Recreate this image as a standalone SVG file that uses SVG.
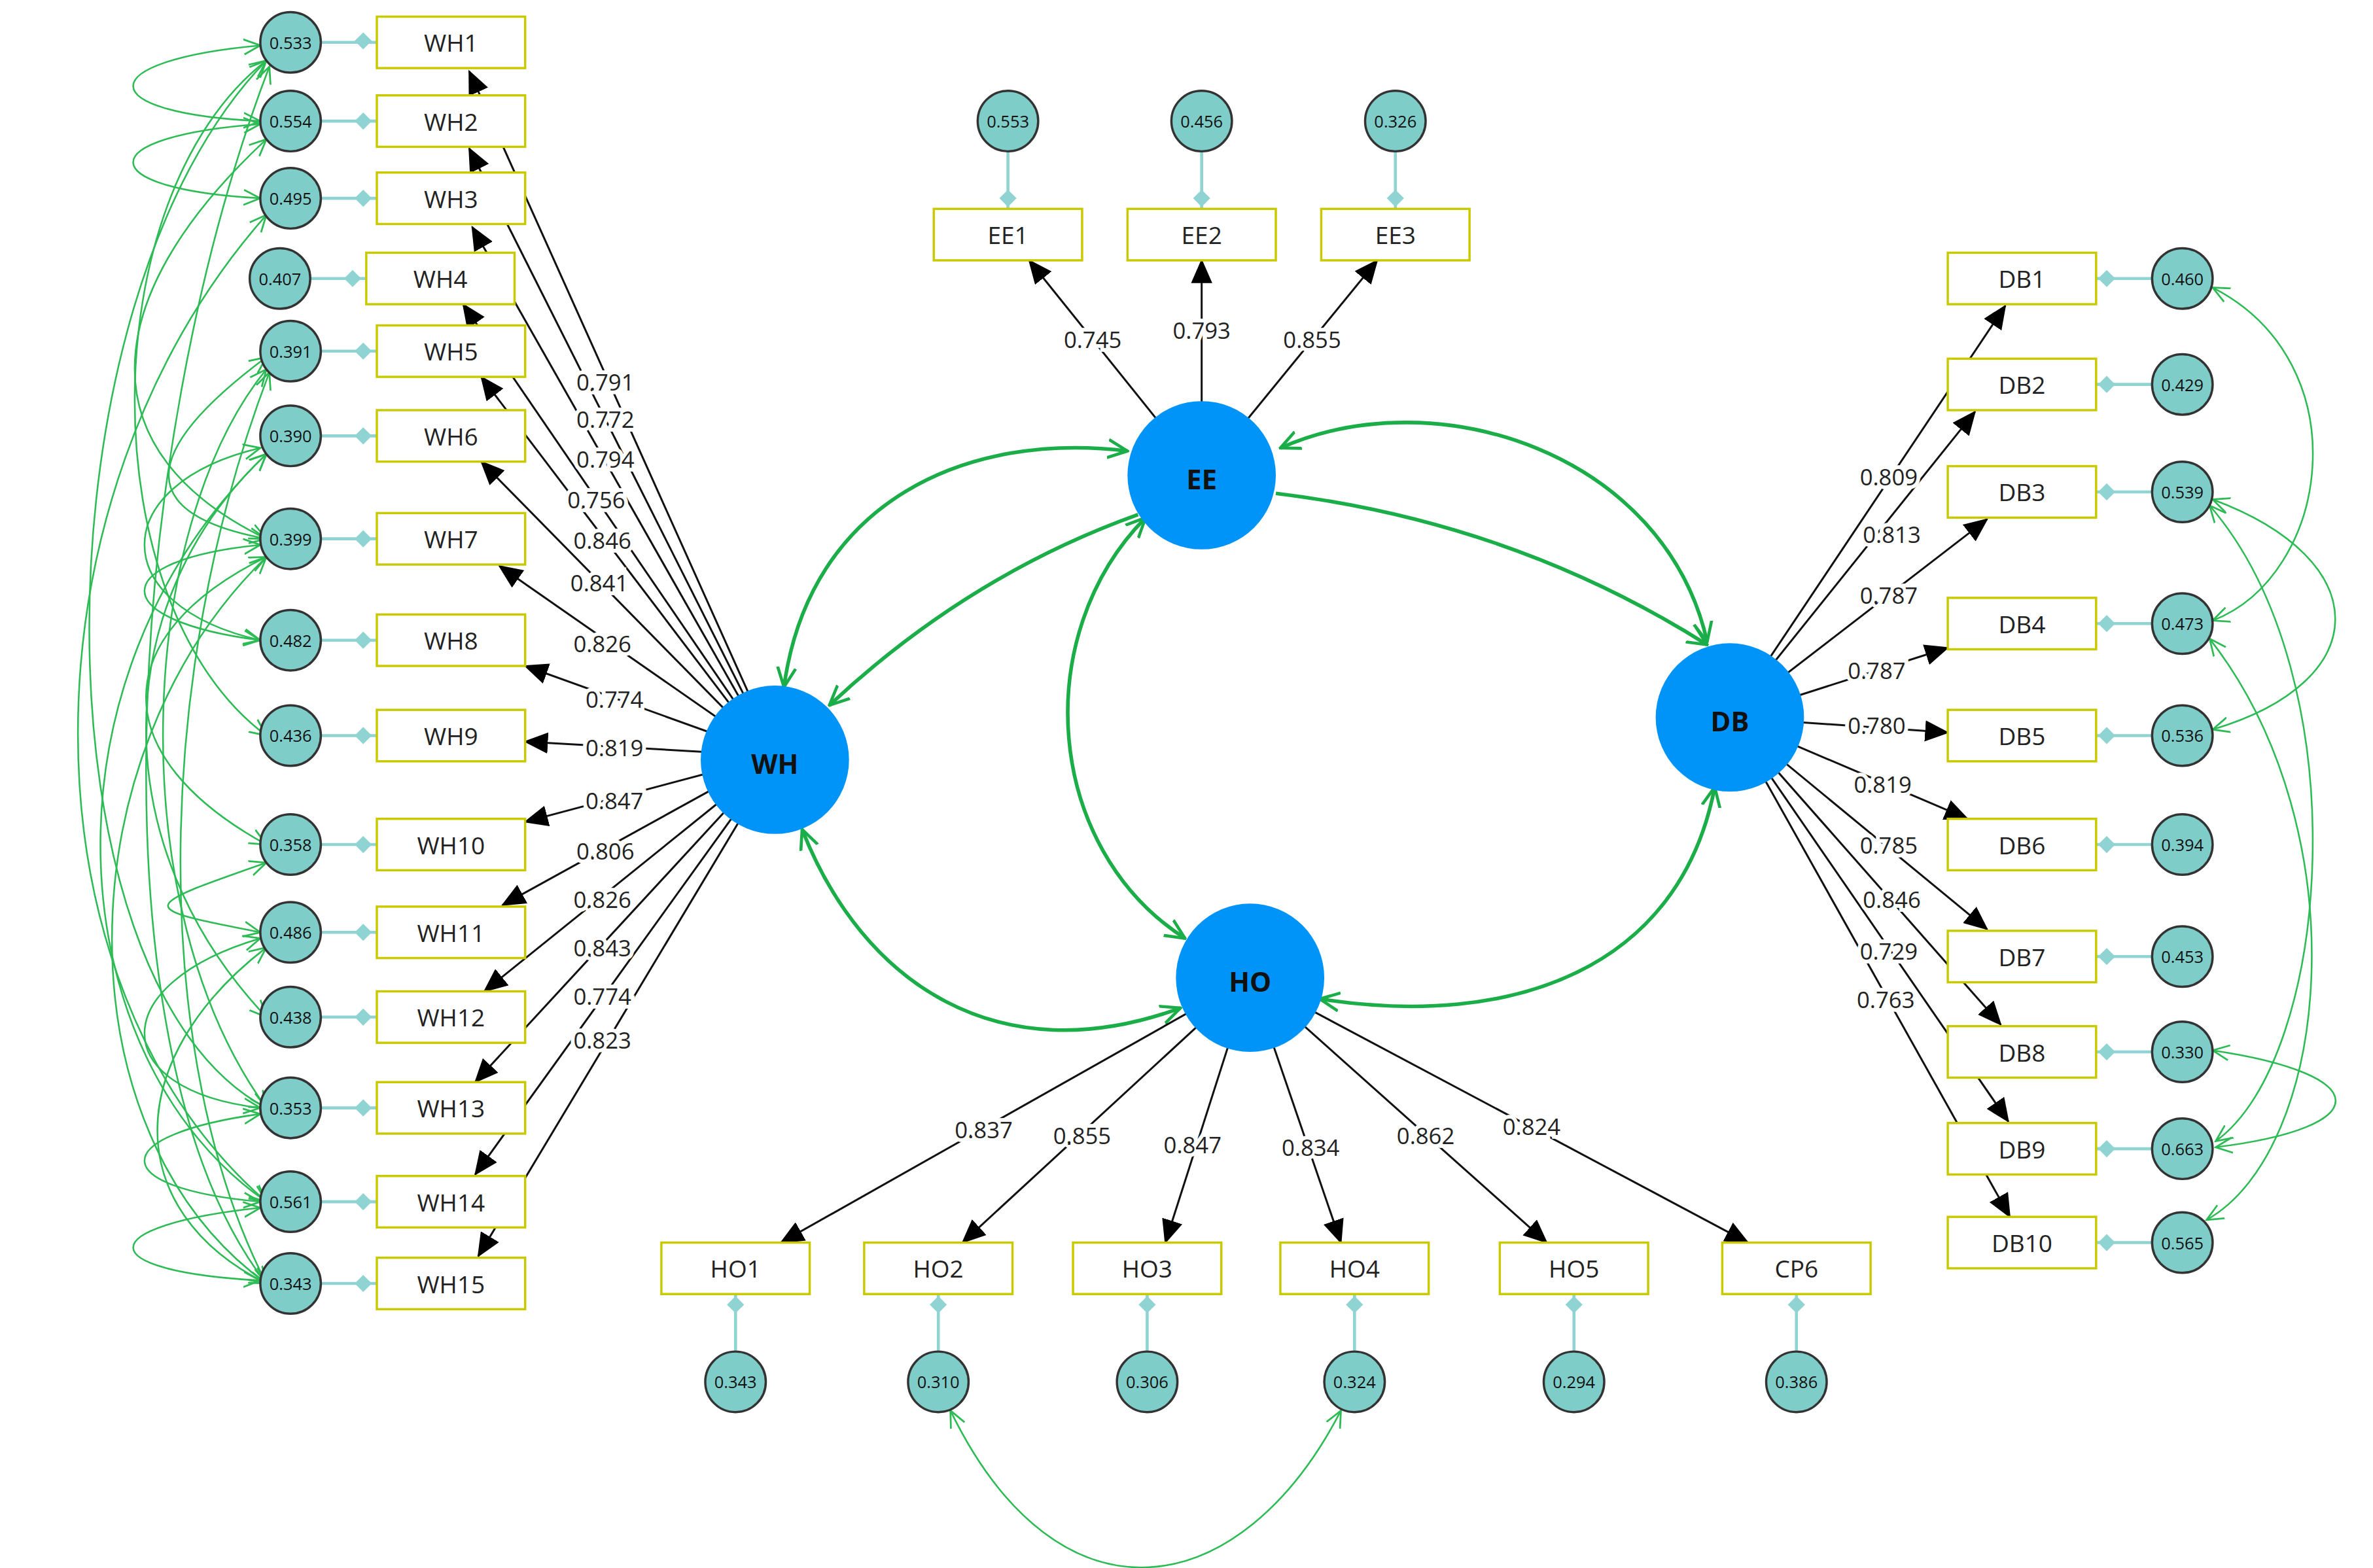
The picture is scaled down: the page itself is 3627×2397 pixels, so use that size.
<svg xmlns="http://www.w3.org/2000/svg" width="3627" height="2397" viewBox="0 0 3627 2397">
<defs>
<style>
.box{fill:#fff;stroke:#c9c900;stroke-width:1.5}
.bt{font-family:"Open Sans","Liberation Sans",sans-serif;font-size:16px;fill:#222;text-anchor:middle;dominant-baseline:central}
.err{fill:#7fcdc9;stroke:#333;stroke-width:1.5}
.et{font-family:"Open Sans","Liberation Sans",sans-serif;font-size:11px;fill:#111;text-anchor:middle;dominant-baseline:central}
.lat{fill:#0094f8}
.lt{font-family:"Open Sans","Liberation Sans",sans-serif;font-size:18px;font-weight:bold;fill:#111;text-anchor:middle;dominant-baseline:central}
.tie{stroke:#8fd3d3;stroke-width:2;fill:none}
.dia{fill:#8fd3d3}
.ld{stroke:#111;stroke-width:1.3;fill:none;marker-end:url(#ah)}
.lab{font-family:"Open Sans","Liberation Sans",sans-serif;font-size:15px;fill:#222;text-anchor:middle;dominant-baseline:central;stroke:#fff;stroke-width:5px;paint-order:stroke}
.st{stroke:#1aad48;stroke-width:2.4;fill:none}
.cv{stroke:#2dbb55;stroke-width:1.1;fill:none;marker-start:url(#gv);marker-end:url(#gv)}
</style>
<marker id="ah" markerUnits="userSpaceOnUse" markerWidth="16" markerHeight="14" viewBox="0 0 16 14" refX="15" refY="7" orient="auto"><path d="M0,0 L16,7 L0,14 z" fill="#000"/></marker>
<marker id="gv" markerUnits="userSpaceOnUse" markerWidth="12" markerHeight="12" viewBox="0 0 12 12" refX="11" refY="6" orient="auto-start-reverse"><path d="M0,1 L11,6 L0,11" fill="none" stroke="#2dbb55" stroke-width="1.2"/></marker>
<marker id="gs" markerUnits="userSpaceOnUse" markerWidth="14" markerHeight="14" viewBox="0 0 14 14" refX="13" refY="7" orient="auto-start-reverse"><path d="M0,1 L13,7 L0,13" fill="none" stroke="#1aad48" stroke-width="2"/></marker>
</defs>
<rect width="3627" height="2397" fill="#fff"/>
<g transform="scale(2.3132,2.3137)">
<g id="connectors">
<!-- covariances left -->
<path class="cv" d="M172,30 C60,40 60,75 172,80"/>
<path class="cv" d="M172,82 C60,90 60,125 172,131"/>
<path class="cv" d="M176,40 C60,130 60,400 176,486"/>
<path class="cv" d="M176,40 C20,200 20,650 176,732"/>
<path class="cv" d="M178,44 C80,300 60,700 176,848"/>
<path class="cv" d="M176,92 C60,200 60,300 176,356"/>
<path class="cv" d="M176,142 C10,330 10,650 176,794"/>
<path class="cv" d="M176,244 C90,350 80,600 176,732"/>
<path class="cv" d="M178,246 C100,450 100,700 176,848"/>
<path class="cv" d="M172,296 C70,320 70,400 172,423"/>
<path class="cv" d="M176,300 C70,400 70,560 176,672"/>
<path class="cv" d="M172,360 C70,370 70,410 172,423"/>
<path class="cv" d="M176,368 C70,420 70,500 176,558"/>
<path class="cv" d="M176,368 C40,500 40,750 176,848"/>
<path class="cv" d="M176,300 C20,450 40,700 176,794"/>
<path class="cv" d="M176,570 C90,600 90,600 172,616"/>
<path class="cv" d="M172,620 C70,650 70,720 172,732"/>
<path class="cv" d="M176,626 C80,700 80,800 176,848"/>
<path class="cv" d="M172,736 C70,750 70,785 172,794"/>
<path class="cv" d="M172,798 C60,810 60,840 172,846"/>
<path class="cv" d="M176,236 C90,300 90,340 176,356"/>
<!-- covariances right -->
<path class="cv" d="M1462,190 C1560,240 1540,380 1462,410"/>
<path class="cv" d="M1462,330 C1570,370 1570,450 1462,482"/>
<path class="cv" d="M1460,334 C1560,450 1540,700 1464,754"/>
<path class="cv" d="M1460,422 C1560,550 1540,760 1458,806"/>
<path class="cv" d="M1462,694 C1570,710 1570,745 1464,758"/>
<!-- covariance bottom -->
<path class="cv" d="M628,932 C700,1080 820,1060 886,932"/>
<!-- structural -->
<path class="st" marker-start="url(#gs)" marker-end="url(#gs)" d="M518,454 C535,330 640,285 745,298"/>
<path class="st" marker-end="url(#gs)" d="M752,340 Q640,380 548,466"/>
<path class="st" marker-end="url(#gs)" d="M843,326 Q1000,345 1128,426"/>
<path class="st" marker-start="url(#gs)" marker-end="url(#gs)" d="M1128,424 C1100,300 950,250 846,296"/>
<path class="st" marker-start="url(#gs)" marker-end="url(#gs)" d="M757,342 C680,420 690,560 783,620"/>
<path class="st" marker-start="url(#gs)" marker-end="url(#gs)" d="M530,548 C570,650 660,710 780,666"/>
<path class="st" marker-start="url(#gs)" marker-end="url(#gs)" d="M872,660 C1000,680 1110,640 1133,520"/>
<!-- WH loadings -->
<path class="ld" d="M500,470 L310,47"/>
<path class="ld" d="M498,472 L310,98"/>
<path class="ld" d="M496,474 L312,150"/>
<path class="ld" d="M494,476 L306,201"/>
<path class="ld" d="M492,478 L318,249"/>
<path class="ld" d="M490,480 L318,305"/>
<path class="ld" d="M488,484 L330,374"/>
<path class="ld" d="M486,490 L347,440"/>
<path class="ld" d="M486,498 L347,490"/>
<path class="ld" d="M486,506 L347,543"/>
<path class="ld" d="M488,512 L332,598"/>
<path class="ld" d="M490,518 L320,655"/>
<path class="ld" d="M492,522 L314,715"/>
<path class="ld" d="M494,526 L314,776"/>
<path class="ld" d="M496,530 L316,830"/>
<!-- EE loadings -->
<path class="ld" d="M794,314 L680,172"/>
<path class="ld" d="M794,314 L794,172"/>
<path class="ld" d="M794,314 L910,172"/>
<!-- DB loadings -->
<path class="ld" d="M1143,474 L1325,202"/>
<path class="ld" d="M1143,474 L1305,272"/>
<path class="ld" d="M1143,474 L1313,343"/>
<path class="ld" d="M1143,474 L1287,428"/>
<path class="ld" d="M1143,474 L1287,484"/>
<path class="ld" d="M1143,474 L1300,541"/>
<path class="ld" d="M1143,474 L1313,614"/>
<path class="ld" d="M1143,474 L1322,677"/>
<path class="ld" d="M1143,474 L1327,741"/>
<path class="ld" d="M1143,474 L1328,804"/>
<!-- HO loadings -->
<path class="ld" d="M826,646 L516,821"/>
<path class="ld" d="M826,646 L636,821"/>
<path class="ld" d="M826,646 L770,821"/>
<path class="ld" d="M826,646 L886,821"/>
<path class="ld" d="M826,646 L1022,821"/>
<path class="ld" d="M826,646 L1155,821"/>
<!-- labels -->
<text class="lab" x="400" y="252">0.791</text>
<text class="lab" x="400" y="277">0.772</text>
<text class="lab" x="400" y="303">0.794</text>
<text class="lab" x="394" y="330">0.756</text>
<text class="lab" x="398" y="357">0.846</text>
<text class="lab" x="396" y="385">0.841</text>
<text class="lab" x="398" y="425">0.826</text>
<text class="lab" x="406" y="462">0.774</text>
<text class="lab" x="406" y="494">0.819</text>
<text class="lab" x="406" y="529">0.847</text>
<text class="lab" x="400" y="562">0.806</text>
<text class="lab" x="398" y="594">0.826</text>
<text class="lab" x="398" y="626">0.843</text>
<text class="lab" x="398" y="658">0.774</text>
<text class="lab" x="398" y="687">0.823</text>
<text class="lab" x="722" y="224">0.745</text>
<text class="lab" x="794" y="218">0.793</text>
<text class="lab" x="867" y="224">0.855</text>
<text class="lab" x="1248" y="315">0.809</text>
<text class="lab" x="1250" y="353">0.813</text>
<text class="lab" x="1248" y="393">0.787</text>
<text class="lab" x="1240" y="443">0.787</text>
<text class="lab" x="1240" y="479">0.780</text>
<text class="lab" x="1244" y="518">0.819</text>
<text class="lab" x="1248" y="558">0.785</text>
<text class="lab" x="1250" y="594">0.846</text>
<text class="lab" x="1248" y="628">0.729</text>
<text class="lab" x="1246" y="660">0.763</text>
<text class="lab" x="650" y="746">0.837</text>
<text class="lab" x="715" y="750">0.855</text>
<text class="lab" x="788" y="756">0.847</text>
<text class="lab" x="866" y="758">0.834</text>
<text class="lab" x="942" y="750">0.862</text>
<text class="lab" x="1012" y="744">0.824</text>
</g>
<!-- latent nodes -->
<g id="WH"><circle class="lat" cx="512" cy="502" r="49"/><text class="lt" x="512" y="504">WH</text></g>
<g id="EE"><circle class="lat" cx="794" cy="314" r="49"/><text class="lt" x="794" y="316">EE</text></g>
<g id="DB"><circle class="lat" cx="1143" cy="474" r="49"/><text class="lt" x="1143" y="476">DB</text></g>
<g id="HO"><circle class="lat" cx="826" cy="646" r="49"/><text class="lt" x="826" y="648">HO</text></g>
<!-- WH indicators -->
<g id="WH1"><path class="tie" d="M212,28 H249"/><rect class="dia" x="236" y="23" width="8" height="8" transform="rotate(45 240 27)"/><circle class="err" cx="192" cy="28" r="20"/><text class="et" x="192" y="28">0.533</text><rect class="box" x="249" y="11" width="98" height="34"/><text class="bt" x="298" y="28">WH1</text></g>
<g id="WH2"><path class="tie" d="M212,80 H249"/><rect class="dia" x="236" y="76" width="8" height="8" transform="rotate(45 240 80)"/><circle class="err" cx="192" cy="80" r="20"/><text class="et" x="192" y="80">0.554</text><rect class="box" x="249" y="63" width="98" height="34"/><text class="bt" x="298" y="80">WH2</text></g>
<g id="WH3"><path class="tie" d="M212,131 H249"/><rect class="dia" x="236" y="127" width="8" height="8" transform="rotate(45 240 131)"/><circle class="err" cx="192" cy="131" r="20"/><text class="et" x="192" y="131">0.495</text><rect class="box" x="249" y="114" width="98" height="34"/><text class="bt" x="298" y="131">WH3</text></g>
<g id="WH4"><path class="tie" d="M205,184 H242"/><rect class="dia" x="229" y="180" width="8" height="8" transform="rotate(45 233 184)"/><circle class="err" cx="185" cy="184" r="20"/><text class="et" x="185" y="184">0.407</text><rect class="box" x="242" y="167" width="98" height="34"/><text class="bt" x="291" y="184">WH4</text></g>
<g id="WH5"><path class="tie" d="M212,232 H249"/><rect class="dia" x="236" y="228" width="8" height="8" transform="rotate(45 240 232)"/><circle class="err" cx="192" cy="232" r="20"/><text class="et" x="192" y="232">0.391</text><rect class="box" x="249" y="215" width="98" height="34"/><text class="bt" x="298" y="232">WH5</text></g>
<g id="WH6"><path class="tie" d="M212,288 H249"/><rect class="dia" x="236" y="284" width="8" height="8" transform="rotate(45 240 288)"/><circle class="err" cx="192" cy="288" r="20"/><text class="et" x="192" y="288">0.390</text><rect class="box" x="249" y="271" width="98" height="34"/><text class="bt" x="298" y="288">WH6</text></g>
<g id="WH7"><path class="tie" d="M212,356 H249"/><rect class="dia" x="236" y="352" width="8" height="8" transform="rotate(45 240 356)"/><circle class="err" cx="192" cy="356" r="20"/><text class="et" x="192" y="356">0.399</text><rect class="box" x="249" y="339" width="98" height="34"/><text class="bt" x="298" y="356">WH7</text></g>
<g id="WH8"><path class="tie" d="M212,423 H249"/><rect class="dia" x="236" y="419" width="8" height="8" transform="rotate(45 240 423)"/><circle class="err" cx="192" cy="423" r="20"/><text class="et" x="192" y="423">0.482</text><rect class="box" x="249" y="406" width="98" height="34"/><text class="bt" x="298" y="423">WH8</text></g>
<g id="WH9"><path class="tie" d="M212,486 H249"/><rect class="dia" x="236" y="482" width="8" height="8" transform="rotate(45 240 486)"/><circle class="err" cx="192" cy="486" r="20"/><text class="et" x="192" y="486">0.436</text><rect class="box" x="249" y="469" width="98" height="34"/><text class="bt" x="298" y="486">WH9</text></g>
<g id="WH10"><path class="tie" d="M212,558 H249"/><rect class="dia" x="236" y="554" width="8" height="8" transform="rotate(45 240 558)"/><circle class="err" cx="192" cy="558" r="20"/><text class="et" x="192" y="558">0.358</text><rect class="box" x="249" y="541" width="98" height="34"/><text class="bt" x="298" y="558">WH10</text></g>
<g id="WH11"><path class="tie" d="M212,616 H249"/><rect class="dia" x="236" y="612" width="8" height="8" transform="rotate(45 240 616)"/><circle class="err" cx="192" cy="616" r="20"/><text class="et" x="192" y="616">0.486</text><rect class="box" x="249" y="599" width="98" height="34"/><text class="bt" x="298" y="616">WH11</text></g>
<g id="WH12"><path class="tie" d="M212,672 H249"/><rect class="dia" x="236" y="668" width="8" height="8" transform="rotate(45 240 672)"/><circle class="err" cx="192" cy="672" r="20"/><text class="et" x="192" y="672">0.438</text><rect class="box" x="249" y="655" width="98" height="34"/><text class="bt" x="298" y="672">WH12</text></g>
<g id="WH13"><path class="tie" d="M212,732 H249"/><rect class="dia" x="236" y="728" width="8" height="8" transform="rotate(45 240 732)"/><circle class="err" cx="192" cy="732" r="20"/><text class="et" x="192" y="732">0.353</text><rect class="box" x="249" y="715" width="98" height="34"/><text class="bt" x="298" y="732">WH13</text></g>
<g id="WH14"><path class="tie" d="M212,794 H249"/><rect class="dia" x="236" y="790" width="8" height="8" transform="rotate(45 240 794)"/><circle class="err" cx="192" cy="794" r="20"/><text class="et" x="192" y="794">0.561</text><rect class="box" x="249" y="777" width="98" height="34"/><text class="bt" x="298" y="794">WH14</text></g>
<g id="WH15"><path class="tie" d="M212,848 H249"/><rect class="dia" x="236" y="844" width="8" height="8" transform="rotate(45 240 848)"/><circle class="err" cx="192" cy="848" r="20"/><text class="et" x="192" y="848">0.343</text><rect class="box" x="249" y="831" width="98" height="34"/><text class="bt" x="298" y="848">WH15</text></g>
<!-- EE indicators -->
<g id="EE1"><path class="tie" d="M666,100 V138"/><rect class="dia" x="662" y="127" width="8" height="8" transform="rotate(45 666 131)"/><circle class="err" cx="666" cy="80" r="20"/><text class="et" x="666" y="80">0.553</text><rect class="box" x="617" y="138" width="98" height="34"/><text class="bt" x="666" y="155">EE1</text></g>
<g id="EE2"><path class="tie" d="M794,100 V138"/><rect class="dia" x="790" y="127" width="8" height="8" transform="rotate(45 794 131)"/><circle class="err" cx="794" cy="80" r="20"/><text class="et" x="794" y="80">0.456</text><rect class="box" x="745" y="138" width="98" height="34"/><text class="bt" x="794" y="155">EE2</text></g>
<g id="EE3"><path class="tie" d="M922,100 V138"/><rect class="dia" x="918" y="127" width="8" height="8" transform="rotate(45 922 131)"/><circle class="err" cx="922" cy="80" r="20"/><text class="et" x="922" y="80">0.326</text><rect class="box" x="873" y="138" width="98" height="34"/><text class="bt" x="922" y="155">EE3</text></g>
<!-- DB indicators -->
<g id="DB1"><path class="tie" d="M1385,184 H1422"/><rect class="dia" x="1388" y="180" width="8" height="8" transform="rotate(45 1392 184)"/><circle class="err" cx="1442" cy="184" r="20"/><text class="et" x="1442" y="184">0.460</text><rect class="box" x="1287" y="167" width="98" height="34"/><text class="bt" x="1336" y="184">DB1</text></g>
<g id="DB2"><path class="tie" d="M1385,254 H1422"/><rect class="dia" x="1388" y="250" width="8" height="8" transform="rotate(45 1392 254)"/><circle class="err" cx="1442" cy="254" r="20"/><text class="et" x="1442" y="254">0.429</text><rect class="box" x="1287" y="237" width="98" height="34"/><text class="bt" x="1336" y="254">DB2</text></g>
<g id="DB3"><path class="tie" d="M1385,325 H1422"/><rect class="dia" x="1388" y="321" width="8" height="8" transform="rotate(45 1392 325)"/><circle class="err" cx="1442" cy="325" r="20"/><text class="et" x="1442" y="325">0.539</text><rect class="box" x="1287" y="308" width="98" height="34"/><text class="bt" x="1336" y="325">DB3</text></g>
<g id="DB4"><path class="tie" d="M1385,412 H1422"/><rect class="dia" x="1388" y="408" width="8" height="8" transform="rotate(45 1392 412)"/><circle class="err" cx="1442" cy="412" r="20"/><text class="et" x="1442" y="412">0.473</text><rect class="box" x="1287" y="395" width="98" height="34"/><text class="bt" x="1336" y="412">DB4</text></g>
<g id="DB5"><path class="tie" d="M1385,486 H1422"/><rect class="dia" x="1388" y="482" width="8" height="8" transform="rotate(45 1392 486)"/><circle class="err" cx="1442" cy="486" r="20"/><text class="et" x="1442" y="486">0.536</text><rect class="box" x="1287" y="469" width="98" height="34"/><text class="bt" x="1336" y="486">DB5</text></g>
<g id="DB6"><path class="tie" d="M1385,558 H1422"/><rect class="dia" x="1388" y="554" width="8" height="8" transform="rotate(45 1392 558)"/><circle class="err" cx="1442" cy="558" r="20"/><text class="et" x="1442" y="558">0.394</text><rect class="box" x="1287" y="541" width="98" height="34"/><text class="bt" x="1336" y="558">DB6</text></g>
<g id="DB7"><path class="tie" d="M1385,632 H1422"/><rect class="dia" x="1388" y="628" width="8" height="8" transform="rotate(45 1392 632)"/><circle class="err" cx="1442" cy="632" r="20"/><text class="et" x="1442" y="632">0.453</text><rect class="box" x="1287" y="615" width="98" height="34"/><text class="bt" x="1336" y="632">DB7</text></g>
<g id="DB8"><path class="tie" d="M1385,695 H1422"/><rect class="dia" x="1388" y="691" width="8" height="8" transform="rotate(45 1392 695)"/><circle class="err" cx="1442" cy="695" r="20"/><text class="et" x="1442" y="695">0.330</text><rect class="box" x="1287" y="678" width="98" height="34"/><text class="bt" x="1336" y="695">DB8</text></g>
<g id="DB9"><path class="tie" d="M1385,759 H1422"/><rect class="dia" x="1388" y="755" width="8" height="8" transform="rotate(45 1392 759)"/><circle class="err" cx="1442" cy="759" r="20"/><text class="et" x="1442" y="759">0.663</text><rect class="box" x="1287" y="742" width="98" height="34"/><text class="bt" x="1336" y="759">DB9</text></g>
<g id="DB10"><path class="tie" d="M1385,821 H1422"/><rect class="dia" x="1388" y="817" width="8" height="8" transform="rotate(45 1392 821)"/><circle class="err" cx="1442" cy="821" r="20"/><text class="et" x="1442" y="821">0.565</text><rect class="box" x="1287" y="804" width="98" height="34"/><text class="bt" x="1336" y="821">DB10</text></g>
<!-- HO indicators -->
<g id="HO1"><path class="tie" d="M486,855 V893"/><rect class="dia" x="482" y="858" width="8" height="8" transform="rotate(45 486 862)"/><circle class="err" cx="486" cy="913" r="20"/><text class="et" x="486" y="913">0.343</text><rect class="box" x="437" y="821" width="98" height="34"/><text class="bt" x="486" y="838">HO1</text></g>
<g id="HO2"><path class="tie" d="M620,855 V893"/><rect class="dia" x="616" y="858" width="8" height="8" transform="rotate(45 620 862)"/><circle class="err" cx="620" cy="913" r="20"/><text class="et" x="620" y="913">0.310</text><rect class="box" x="571" y="821" width="98" height="34"/><text class="bt" x="620" y="838">HO2</text></g>
<g id="HO3"><path class="tie" d="M758,855 V893"/><rect class="dia" x="754" y="858" width="8" height="8" transform="rotate(45 758 862)"/><circle class="err" cx="758" cy="913" r="20"/><text class="et" x="758" y="913">0.306</text><rect class="box" x="709" y="821" width="98" height="34"/><text class="bt" x="758" y="838">HO3</text></g>
<g id="HO4"><path class="tie" d="M895,855 V893"/><rect class="dia" x="891" y="858" width="8" height="8" transform="rotate(45 895 862)"/><circle class="err" cx="895" cy="913" r="20"/><text class="et" x="895" y="913">0.324</text><rect class="box" x="846" y="821" width="98" height="34"/><text class="bt" x="895" y="838">HO4</text></g>
<g id="HO5"><path class="tie" d="M1040,855 V893"/><rect class="dia" x="1036" y="858" width="8" height="8" transform="rotate(45 1040 862)"/><circle class="err" cx="1040" cy="913" r="20"/><text class="et" x="1040" y="913">0.294</text><rect class="box" x="991" y="821" width="98" height="34"/><text class="bt" x="1040" y="838">HO5</text></g>
<g id="CP6"><path class="tie" d="M1187,855 V893"/><rect class="dia" x="1183" y="858" width="8" height="8" transform="rotate(45 1187 862)"/><circle class="err" cx="1187" cy="913" r="20"/><text class="et" x="1187" y="913">0.386</text><rect class="box" x="1138" y="821" width="98" height="34"/><text class="bt" x="1187" y="838">CP6</text></g>
</g>
</svg>
